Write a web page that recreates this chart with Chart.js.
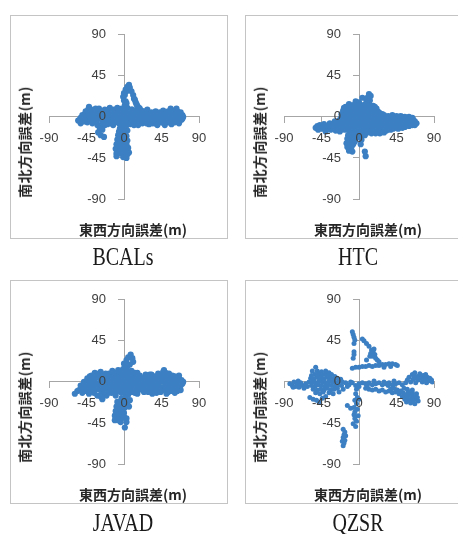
<!DOCTYPE html>
<html>
<head>
<meta charset="utf-8">
<script src="https://cdn.jsdelivr.net/npm/chart.js@4.4.0/dist/chart.umd.min.js"></script>
<style>
  body { margin: 0; background: #fff; width: 458px; height: 534px; position: relative; overflow: hidden; }
  .panel { position: absolute; width: 218px; height: 224px; box-sizing: border-box; border: 1px solid #c4c4c4; }
  .panel canvas { position: absolute; left: 0; top: 0; }
  .ytitle, .xtitle { position: absolute; font: bold 14px "Noto Sans CJK JP"; color: #262626; white-space: nowrap; }
  .ytitle { transform: translate(-50%, -50%) rotate(-90deg); letter-spacing: 0.4px; }
  .xtitle { transform: translate(-50%, -50%); }
  .caption { position: absolute; width: 200px; text-align: center; font: 25px "Liberation Serif"; line-height: 25px; color: #1a1a1a; transform: scaleX(0.8); }
</style>
</head>
<body>
<script>
// ticks shared by both axes of every panel
const tickValues = [-90, -45, 0, 45, 90];
const xTitle = '東西方向誤差(m)';
const yTitle = '南北方向誤差(m)';
const receivers = ['BCALs', 'HTC', 'JAVAD', 'QZSR'];

// [east-west error, north-south error] in metres
const bcalsPts = [
  [-55,-4],[-52,-7],[-52,-1],[-50,2],[-48,-5],[-46,6],[-45,0],[-44,-6],[-42,11],[-42,4],[-41,-3],[-39,8],
  [-38,-7],[-37,1],[-36,-2],[-35,5],[-34,9],[-33,-6],[-32,2],[-31,-17],[-30,-2],[-29,6],[-28,-20],[-28,-10],
  [-27,0],[-26,-14],[-25,4],[-24,-22],[-24,-6],[-23,8],[-22,-2],[-21,2],[-20,-8],[-19,5],[-18,-3],[-17,10],
  [-16,0],[-15,-6],
  [-53,-3],[-50,-4],[-47,-2],[-47,3],[-44,2],[-43,8],[-40,0],[-40,5],[-38,-3],[-36,6],[-34,-3],[-32,-9],
  [-31,0],[-30,9],[-29,-13],[-27,4],[-26,-6],[-25,0],[-23,-9],[-22,5],[-20,-3],[-18,2],[-17,-7],[-16,5],
  [-14,4],[-13,-9],[-12,8],[-11,0],[-10,-5],[-9,3],[-8,10],[-7,-2],[-6,6],[-5,-8],[-4,1],[-3,9],[-2,-4],
  [-1,4],[0,-1],[1,7],[2,-6],[3,2],[4,10],[5,-3],[6,5],[7,-8],[8,1],[9,8],[10,-4],[11,3],[12,-9],[13,6],
  [14,-1],[15,4],
  [-13,0],[-12,-4],[-10,6],[-8,-6],[-6,1],[-4,-4],[-3,5],[-1,-8],[0,8],[1,2],[3,-9],[4,5],[5,1],[6,-5],
  [8,-3],[9,4],[10,8],[11,-7],[12,0],[13,-4],[15,0],[16,-5],[16,7],
  [2,8],[1,10],[1,13],[3,15],[2,17],[0,18],[-1,22],[1,24],[0,26],[3,28],[2,30],[4,33],[5,31],[6,35],[7,32],
  [9,28],[11,24],[12,20],[13,19],[14,16],[15,14],[16,12],[18,10],[19,9],[20,7],[22,6],
  [17,-9],[18,9],[19,-3],[20,3],[22,-7],[24,6],[25,0],[26,-5],[28,8],[29,2],[30,-8],[31,-2],[33,5],[34,-7],
  [35,1],[37,-4],[38,6],[40,-9],[40,2],[42,-2],[43,5],[45,-6],[46,0],[47,7],[49,-9],[50,3],[51,-3],[53,6],
  [54,-6],[55,0],[56,9],[57,-8],[58,4],[59,-2],[60,7],[61,-6],[62,1],[63,9],[64,-4],[65,4],[66,-7],[67,0],
  [68,5],[69,-3],[71,0],[70,2],
  [20,-6],[21,6],[23,-2],[23,3],[26,3],[27,-7],[28,-3],[30,4],[32,-5],[32,1],[35,-3],[36,4],[37,-7],[39,-1],
  [41,4],[42,-6],[44,-3],[44,2],[46,4],[47,-4],[48,-7],[49,1],[51,5],[52,-5],[52,1],[54,3],[56,-3],[57,2],
  [58,-5],[60,-1],[61,4],[63,-2],[64,6],[66,2],[67,-4],[69,1],[70,-2],
  [-4,-12],[2,-12],[-6,-16],[0,-16],[4,-15],[-7,-20],[-2,-20],[3,-21],[-8,-25],[-3,-25],[4,-26],[-9,-30],
  [-4,-30],[3,-30],[-10,-35],[-5,-34],[5,-34],[-3,-37],[-9,-40],[1,-39],[6,-39],[-9,-43],[1,-42],[3,-45],[-1,-44],
  [-2,-12],[-5,-13],[1,-14],[-4,-18],[1,-19],[-5,-22],[0,-23],[-6,-27],[-1,-27],[1,-31],[-7,-31],[-7,-35],
  [-1,-33],[2,-36],[-6,-40],[-2,-40],[4,-41],[-7,-37]
];

const htcPts = [
  [-16,11],[-12,14],[-7,13],[-2,12],[3,13],[8,14],[13,13],[17,12],[21,9],
  [-18,10],[-10,11],[-5,10],[0,11],[5,11],[10,10],[15,10],[19,11],
  [-19,7],[-14,8],[-9,9],[-4,7],[1,8],[6,9],[11,8],[16,7],[20,8],[24,5],
  [-16,5],[-11,6],[-6,5],[-1,5],[4,6],[9,6],[14,5],[19,5],[22,6],
  [-21,3],[-17,2],[-12,4],[-7,3],[-2,2],[3,4],[8,3],[13,2],[18,3],[23,2],[28,3],
  [-20,0],[-15,1],[-10,0],[-5,0],[0,1],[5,0],[10,1],[15,0],[20,1],[25,0],[30,2],[35,1],[40,2],[45,1],
  [50,1],[55,0],[60,0],[64,-1],
  [-22,-2],[-18,-3],[-13,-1],[-8,-2],[-3,-3],[2,-1],[7,-2],[12,-3],[17,-2],[22,-1],[27,-2],[32,0],[37,-1],
  [42,0],[47,-1],[52,0],[57,-1],[61,-2],[65,-3],
  [-24,-4],[-19,-5],[-14,-4],[-9,-4],[-4,-5],[1,-4],[6,-4],[11,-5],[16,-4],[21,-4],[26,-5],[31,-4],[36,-3],
  [41,-3],[46,-3],[51,-3],[56,-3],[62,-4],[67,-5],
  [-25,-6],[-20,-7],[-15,-8],[-10,-6],[-5,-7],[0,-8],[5,-6],[10,-7],[15,-8],[20,-6],[25,-7],[30,-6],[35,-5],
  [40,-6],[45,-5],[50,-6],[55,-5],[60,-6],[65,-5],[69,-7],
  [-22,-9],[-17,-10],[-12,-9],[-7,-9],[-2,-9],[3,-9],[8,-9],[13,-9],[18,-9],[23,-9],[28,-9],[33,-8],[38,-8],
  [43,-8],[48,-8],[53,-8],[58,-8],[63,-8],[67,-9],
  [-20,-11],[-15,-12],[-10,-10],[-5,-12],[0,-11],[5,-10],[10,-12],[15,-11],[20,-12],[25,-11],[30,-12],
  [35,-10],[40,-11],[45,-12],[50,-10],[55,-11],[60,-10],[64,-9],
  [-17,-14],[-9,-13],[-4,-14],[1,-13],[6,-13],[11,-14],[16,-13],[21,-13],[26,-13],[31,-14],[36,-12],
  [41,-13],[47,-13],[52,-12],
  [-12,-15],[-7,-16],[-2,-15],[3,-16],[8,-15],[13,-14],[18,-16],[23,-15],[28,-16],[33,-15],[38,-14],
  [-10,-18],[-5,-17],[0,-17],[5,-18],[10,-17],[15,-18],[20,-18],[30,-17],
  [-13,-20],[-8,-19],[-3,-20],[2,-19],[7,-20],[25,-18],
  [-52,-12],[-49,-14],[-47,-9],[-44,-13],[-42,-8],[-40,-16],[-38,-11],[-35,-7],[-34,-14],[-31,-10],
  [-29,-5],[-28,-15],[-25,-11],[-23,-16],
  [-50,-10],[-46,-12],[-45,-10],[-43,-11],[-39,-13],[-36,-10],[-33,-8],[-30,-13],[-27,-8],[-26,-14],[-22,-14],
  [-14,-24],[-9,-24],[-4,-23],[-15,-29],[-10,-28],[-5,-27],[-14,-33],[-9,-33],[-12,-37],[-8,-38],
  [-12,-22],[-7,-26],[-12,-31],[-11,-35],[-7,-30],[0,-22],
  [3,-25],[2,-30],[7,-38],[8,-43],
  [4,21],[10,21],[12,25],[14,23],[9,18],[13,18],[-4,17],[0,16]
];

const javadPts = [
  [-59,-13],[-54,-9],[-52,-4],[-50,-12],[-48,0],[-46,-7],[-44,4],[-42,-13],[-41,-2],[-39,7],[-37,-9],[-36,2],
  [-35,10],[-33,-5],[-32,-15],[-31,5],[-29,-1],[-28,11],[-27,-11],[-26,-19],[-25,6],[-24,-4],[-23,1],[-22,9],
  [-21,-15],[-20,-8],[-19,3],
  [-56,-10],[-51,-7],[-49,-3],[-47,-10],[-45,-2],[-43,-6],[-43,1],[-41,6],[-40,-10],[-38,-4],[-38,3],
  [-36,-12],[-34,-1],[-33,6],[-31,-8],[-30,-3],[-30,9],[-28,-16],[-27,2],[-25,-8],[-24,-14],[-22,-3],
  [-21,4],[-19,-12],[-18,-5],[-18,9],
  [-17,-2],[-16,7],[-15,-12],[-14,12],[-13,1],[-12,-6],[-11,9],[-10,-15],[-9,4],[-8,-3],[-7,13],[-6,-9],
  [-5,7],[-4,0],[-3,-12],[-2,10],[-1,-5],[0,3],[1,16],[1,-10],[2,7],[3,-2],[4,12],[5,-14],[6,4],[7,-6],
  [8,9],[9,0],[10,-11],[11,6],[12,-3],[13,10],[14,-8],[15,2],[16,-13],[17,6],
  [-16,-7],[-15,3],[-13,-9],[-12,6],[-11,-2],[-9,-11],[-9,10],[-7,0],[-6,-5],[-5,12],[-3,3],[-2,-8],
  [-1,14],[0,-2],[1,7],[2,-14],[3,11],[4,-6],[5,1],[6,8],[7,-11],[8,-2],[9,12],[10,4],[11,-6],[12,1],
  [13,-12],[14,7],[15,-4],[16,10],[17,-8],[18,0],
  [0,20],[3,24],[5,27],[8,30],[10,26],[11,22],[7,19],[4,17],
  [19,7],[20,-4],[21,1],[22,-9],[24,4],[25,-6],[27,0],[28,6],[29,-11],[31,3],[32,-5],[33,8],[34,-13],[35,-1],
  [37,4],[38,-9],[40,1],[41,-4],[42,7],[44,-11],[45,2],[46,-6],[47,11],[48,13],[49,-1],[50,6],[51,-13],
  [52,-8],[53,2],[54,9],[55,-4],[56,-10],[57,4],[58,7],[59,-6],[60,0],[61,-12],[62,5],[63,-3],[64,2],
  [65,-8],[66,4],[67,-1],[68,-9],[69,2],[71,0],
  [20,4],[23,-2],[24,-11],[26,2],[26,8],[28,-7],[30,-2],[31,8],[33,-9],[33,1],[36,-5],[36,6],[39,-12],
  [39,3],[41,9],[43,-7],[43,0],[45,6],[47,-9],[48,3],[50,-4],[50,10],[53,-11],[54,5],[55,0],[57,-7],[58,2],
  [60,-9],[61,6],[62,-5],[64,-10],[65,1],[66,7],[68,-4],[70,-2],
  [-3,-18],[2,-18],[7,-20],[-8,-22],[-2,-23],[6,-27],[-9,-27],[-4,-28],[1,-28],[-10,-32],[-5,-33],[0,-34],
  [-11,-37],[-6,-38],[-2,-36],[-11,-42],[-7,-42],[3,-40],[3,-44],[1,-50],
  [0,-21],[4,-23],[-6,-24],[-7,-30],[-2,-31],[-8,-35],[-3,-40],[-9,-39],[-4,-44],[0,-38]
];

const qzsrPts = [
  // upper spike and the cluster right of it
  [-8,55],[-7,52],[-6,49],[-5,46],[-6,42],[-6,33],[-6,30],[-7,26],[4,47],[6,45],[9,42],[12,39],[15,35],
  [14,31],[17,33],[18,36],[16,28],[19,30],[20,26],[22,24],[9,24],[24,22],[13,28],
  // upper band
  [-8,15],[-4,16],[0,16],[4,17],[8,17],[12,18],[16,17],[20,18],[24,18],[28,19],[32,19],[36,20],[40,20],
  [44,19],[46,18],[30,16],[38,17],
  // streak along the east axis
  [0,-2],[4,-1],[8,-2],[12,-1],[16,-3],[20,-2],[24,-1],[28,-3],[32,-2],[36,-1],[40,-3],[44,-2],[48,-1],
  [52,-3],[56,-1],[18,1],[30,0],[42,1],[10,-4],[35,-4],
  // far east cluster
  [58,2],[60,5],[62,0],[64,8],[65,3],[67,10],[68,-1],[70,6],[71,2],[73,9],[74,4],[76,0],[77,7],[79,3],
  [80,8],[82,5],[83,1],[85,4],[87,2],[88,0],[69,4],[75,6],[81,-1],[66,6],
  // lower band and south-east cluster
  [8,-7],[12,-8],[16,-9],[20,-8],[24,-10],[28,-9],[32,-11],[36,-10],[40,-12],[44,-11],
  [38,-8],[42,-7],[46,-9],[48,-13],[50,-10],[52,-16],[53,-12],[55,-19],[56,-14],[57,-22],[58,-17],[59,-11],
  [60,-20],[61,-14],[62,-23],[63,-18],[64,-12],[65,-21],[66,-16],[67,-24],[68,-19],[69,-13],[70,-17],
  [64,-9],[54,-7],[58,-8],[71,-21],
  // west band
  [-83,-2],[-80,-4],[-78,0],[-76,-5],[-74,-2],[-72,-6],[-70,-1],[-68,-4],[-66,-7],[-64,-2],[-62,-5],
  [-60,0],[-79,-6],[-73,1],
  // dense west cluster
  [-50,12],[-45,11],[-40,12],[-36,10],
  [-57,7],[-53,8],[-49,9],[-45,7],[-41,8],[-37,7],[-33,8],[-29,6],
  [-58,4],[-54,3],[-50,5],[-46,4],[-42,3],[-38,5],[-34,4],[-30,3],[-26,4],[-22,3],
  [-56,0],[-52,-1],[-48,1],[-44,0],[-40,-1],[-36,1],[-32,0],[-28,-1],[-24,1],[-20,0],
  [-57,-4],[-53,-5],[-49,-3],[-45,-4],[-41,-5],[-37,-3],[-33,-4],[-29,-5],[-25,-3],[-21,-4],
  [-55,-8],[-50,-9],[-46,-8],[-42,-9],[-38,-7],[-34,-9],[-30,-8],[-26,-7],[-19,-8],
  [-52,-12],[-47,-13],[-43,-11],[-36,-12],[-31,-13],[-24,-11],
  [-52,16],[-56,12],
  [-59,-17],[-55,-19],[-51,-20],[-48,-22],[-44,-18],[-40,-16],
  [-16,-1],[-12,-3],[-8,-1],[-4,-4],[0,-5],[-14,-5],[-10,0],
  // south spike
  [-3,-8],[-4,-13],[-2,-17],[-5,-20],[-3,-24],[-6,-28],[-2,-30],[-5,-33],[-1,-37],[-5,-40],[-3,-43],
  [-7,-46],[-4,-49],[-6,-36],[0,-19],[-14,-26],[-10,-29],
  [-19,-52],[-17,-55],[-18,-58],[-19,-61],[-17,-64],[-18,-67],[-19,-70],[-16,-59],[-20,-65]
];

const seriesPts = [bcalsPts, htcPts, javadPts, qzsrPts];

// panel boxes on the page
const panelBoxes = [
  { left: 10, top: 15 },
  { left: 245, top: 15 },
  { left: 10, top: 280 },
  { left: 245, top: 280 }
];
const captionTops = [244, 244, 510, 510];
const pointRadius = [3.1, 3.1, 3.1, 2.5];

const axisGrey = '#a6a6a6';
const tickFont = { family: 'Liberation Sans', size: 13 };

function axisOpts(pos, pad, trail) {
  return {
    type: 'linear',
    position: pos,
    min: -90,
    max: 90,
    afterBuildTicks: s => { s.ticks = tickValues.map(v => ({ value: v })); },
    grid: { drawOnChartArea: false, drawTicks: true, tickLength: 6, color: axisGrey },
    border: { display: true, color: axisGrey, width: 1 },
    ticks: {
      z: 1, padding: pad, color: '#404040', font: tickFont, maxRotation: 0, autoSkip: false,
      // centred y axis draws labels flush against the line, so push them left
      callback: v => String(v) + trail
    }
  };
}

receivers.forEach((name, i) => {
  const box = panelBoxes[i];
  const panel = document.createElement('div');
  panel.className = 'panel';
  panel.style.left = box.left + 'px';
  panel.style.top = box.top + 'px';
  const canvas = document.createElement('canvas');
  canvas.width = 216;
  canvas.height = 222;
  panel.appendChild(canvas);
  document.body.appendChild(panel);

  const yt = document.createElement('div');
  yt.className = 'ytitle';
  yt.textContent = yTitle;
  yt.style.left = (box.left + 14) + 'px';
  yt.style.top = (box.top + 127) + 'px';
  document.body.appendChild(yt);

  const xt = document.createElement('div');
  xt.className = 'xtitle';
  xt.textContent = xTitle;
  xt.style.left = (box.left + 123) + 'px';
  xt.style.top = (box.top + 214) + 'px';
  document.body.appendChild(xt);

  const cap = document.createElement('div');
  cap.className = 'caption';
  cap.textContent = name;
  cap.style.left = (box.left + 113 - 100) + 'px';
  cap.style.top = captionTops[i] + 'px';
  document.body.appendChild(cap);

  new Chart(canvas, {
    type: 'scatter',
    data: {
      datasets: [{
        label: name,
        data: seriesPts[i].map(p => ({ x: p[0], y: p[1] })),
        backgroundColor: '#3c80c3',
        borderWidth: 0,
        pointRadius: pointRadius[i],
        pointHoverRadius: pointRadius[i]
      }]
    },
    options: {
      responsive: false,
      animation: false,
      events: [],
      layout: { padding: { left: 38, top: 17, right: 28, bottom: 39 } },
      plugins: { legend: { display: false }, tooltip: { enabled: false } },
      scales: {
        x: axisOpts({ y: 0 }, 8, ''),
        y: axisOpts({ x: 0 }, 11, '     ')
      }
    }
  });
});
</script>
</body>
</html>
